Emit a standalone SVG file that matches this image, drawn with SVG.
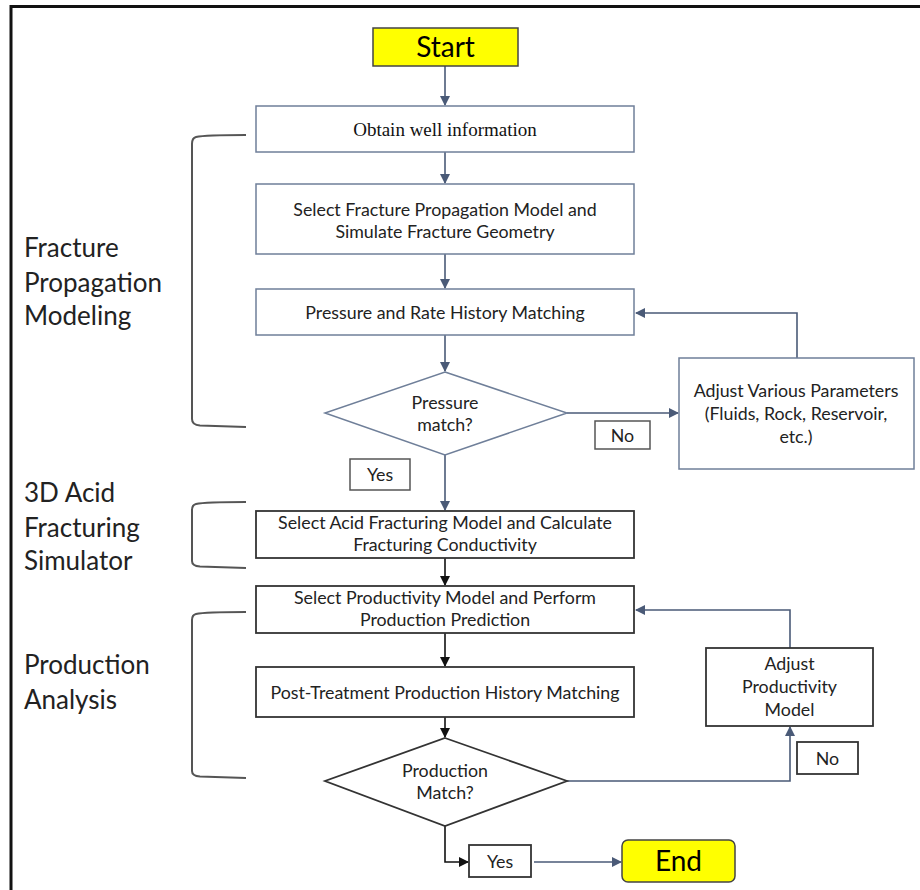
<svg xmlns="http://www.w3.org/2000/svg" width="920" height="890" viewBox="0 0 920 890">
  <defs>
    <marker id="ah-slate" markerWidth="10" markerHeight="10" refX="9" refY="5" orient="auto" markerUnits="userSpaceOnUse">
      <path d="M0,0 L10,5 L0,10 Z" fill="#4a5a77"/>
    </marker>
    <marker id="ah-black" markerWidth="10" markerHeight="10" refX="9" refY="5" orient="auto" markerUnits="userSpaceOnUse">
      <path d="M0,0 L10,5 L0,10 Z" fill="#111"/>
    </marker>
  </defs>
  <style>
    .frame { fill: none; stroke: #111; stroke-width: 3; }
    .box-s { fill: #fff; stroke: #6f7f99; stroke-width: 1.5; }
    .box-d { fill: #fff; stroke: #333; stroke-width: 1.8; }
    .term { fill: #ffff00; stroke: #444; stroke-width: 1.5; }
    .t { font-family: Lato, "Open Sans", "Liberation Sans", sans-serif; font-size: 17.8px; fill: #222; text-anchor: middle; }
    .serif { font-family: "Liberation Serif", "Times New Roman", serif; font-size: 19px; fill: #111; text-anchor: middle; }
    .big { font-family: Lato, "Open Sans", "Liberation Sans", sans-serif; font-size: 28px; fill: #000; text-anchor: middle; }
    .side { font-family: Lato, "Open Sans", "Liberation Sans", sans-serif; font-size: 26px; fill: #222; }
    .bracket { fill: none; stroke: #555; stroke-width: 2; }
    .c-s { fill: none; stroke: #4a5a77; stroke-width: 1.6; }
    .c-d { fill: none; stroke: #111; stroke-width: 1.6; }
  </style>

  <rect class="frame" x="11" y="6.5" width="930" height="900"/>

  <!-- section labels -->
  <g id="label-fracture">
    <text class="side" x="24" y="257">Fracture</text>
    <text class="side" x="24" y="292">Propagation</text>
    <text class="side" x="24" y="325">Modeling</text>
  </g>
  <g id="label-acid">
    <text class="side" x="24" y="502">3D Acid</text>
    <text class="side" x="24" y="537">Fracturing</text>
    <text class="side" x="24" y="570">Simulator</text>
  </g>
  <g id="label-production">
    <text class="side" x="24" y="674">Production</text>
    <text class="side" x="24" y="709">Analysis</text>
  </g>

  <!-- brackets -->
  <g id="brackets">
    <path class="bracket" d="M246,135 Q205,135 196,137 Q192,138 192,144 L192,419 Q192,425 200,425.5 L246,427"/>
    <path class="bracket" d="M246,502 Q205,502 196,504 Q192,505 192,510 L192,561 Q192,566 200,566.5 L246,568"/>
    <path class="bracket" d="M246,612 Q205,612 196,614 Q192,615 192,620 L192,771 Q192,776 200,776.5 L246,778"/>
  </g>

  <!-- connectors -->
  <g id="connectors">
    <path class="c-s" d="M445,66 L445,105" marker-end="url(#ah-slate)"/>
    <path class="c-s" d="M445,152 L445,183" marker-end="url(#ah-slate)"/>
    <path class="c-s" d="M445,254 L445,288" marker-end="url(#ah-slate)"/>
    <path class="c-s" d="M445,335 L445,371" marker-end="url(#ah-slate)"/>
    <path class="c-s" d="M567,413 L678,413" marker-end="url(#ah-slate)"/>
    <path class="c-s" d="M797,358 L797,313 L636,313" marker-end="url(#ah-slate)"/>
    <path class="c-s" d="M445,455 L445,510" marker-end="url(#ah-slate)"/>
    <path class="c-d" d="M445,558 L445,585" marker-end="url(#ah-black)"/>
    <path class="c-d" d="M445,633 L445,666" marker-end="url(#ah-black)"/>
    <path class="c-d" d="M445,717 L445,737" marker-end="url(#ah-black)"/>
    <path class="c-s" d="M567,781 L790,781 L790,727" marker-end="url(#ah-slate)"/>
    <path class="c-s" d="M790,648 L790,610 L636,610" marker-end="url(#ah-slate)"/>
    <path class="c-d" d="M445,826 L445,862 L468,862" marker-end="url(#ah-black)"/>
    <path class="c-s" d="M534,862 L621,862" marker-end="url(#ah-slate)"/>
  </g>

  <!-- nodes -->
  <g id="start">
    <rect class="term" x="373" y="28" width="145" height="38"/>
    <text class="big" x="445.5" y="57">Start</text>
  </g>
  <g id="obtain-well-info">
    <rect class="box-s" x="256" y="106" width="378" height="46"/>
    <text class="serif" x="445" y="136">Obtain well information</text>
  </g>
  <g id="select-propagation-model">
    <rect class="box-s" x="256" y="184" width="378" height="70"/>
    <text class="t" x="445" y="216">Select Fracture Propagation Model and</text>
    <text class="t" x="445" y="238">Simulate Fracture Geometry</text>
  </g>
  <g id="pressure-rate-matching">
    <rect class="box-s" x="256" y="289" width="378" height="46"/>
    <text class="t" x="445" y="319">Pressure and Rate History Matching</text>
  </g>
  <g id="pressure-match">
    <polygon class="box-s" points="445,372 567,413 445,455 325,413"/>
    <text class="t" x="445" y="409">Pressure</text>
    <text class="t" x="445" y="431">match?</text>
  </g>
  <g id="adjust-parameters">
    <rect class="box-s" x="679" y="358" width="235" height="111"/>
    <text class="t" x="796" y="397">Adjust Various Parameters</text>
    <text class="t" x="796" y="420">(Fluids, Rock, Reservoir,</text>
    <text class="t" x="796" y="443">etc.)</text>
  </g>
  <g id="label-no-pressure">
    <rect class="box-s" x="595" y="421" width="55" height="28" style="stroke:#555"/>
    <text class="t" x="622.5" y="442">No</text>
  </g>
  <g id="label-yes-pressure">
    <rect class="box-s" x="350" y="459" width="60" height="31" style="stroke:#555"/>
    <text class="t" x="380" y="481">Yes</text>
  </g>
  <g id="acid-fracturing-model">
    <rect class="box-d" x="256" y="511" width="378" height="47"/>
    <text class="t" x="445" y="529">Select Acid Fracturing Model and Calculate</text>
    <text class="t" x="445" y="551">Fracturing Conductivity</text>
  </g>
  <g id="productivity-model">
    <rect class="box-d" x="256" y="586" width="378" height="47"/>
    <text class="t" x="445" y="604">Select Productivity Model and Perform</text>
    <text class="t" x="445" y="626">Production Prediction</text>
  </g>
  <g id="production-history-matching">
    <rect class="box-d" x="256" y="667" width="378" height="50"/>
    <text class="t" x="445" y="699">Post-Treatment Production History Matching</text>
  </g>
  <g id="production-match">
    <polygon class="box-d" points="445,738 567,781 445,826 325,781"/>
    <text class="t" x="445" y="777">Production</text>
    <text class="t" x="445" y="799">Match?</text>
  </g>
  <g id="adjust-productivity">
    <rect class="box-d" x="706" y="648" width="167" height="78"/>
    <text class="t" x="789.5" y="670">Adjust</text>
    <text class="t" x="789.5" y="693">Productivity</text>
    <text class="t" x="789.5" y="716">Model</text>
  </g>
  <g id="label-no-production">
    <rect class="box-d" x="797" y="742" width="61" height="32"/>
    <text class="t" x="827.5" y="765">No</text>
  </g>
  <g id="label-yes-production">
    <rect class="box-d" x="469" y="845" width="62" height="32"/>
    <text class="t" x="500" y="868">Yes</text>
  </g>
  <g id="end">
    <rect class="term" x="622" y="840" width="113" height="42" rx="6"/>
    <text class="big" x="678.5" y="871">End</text>
  </g>
</svg>
